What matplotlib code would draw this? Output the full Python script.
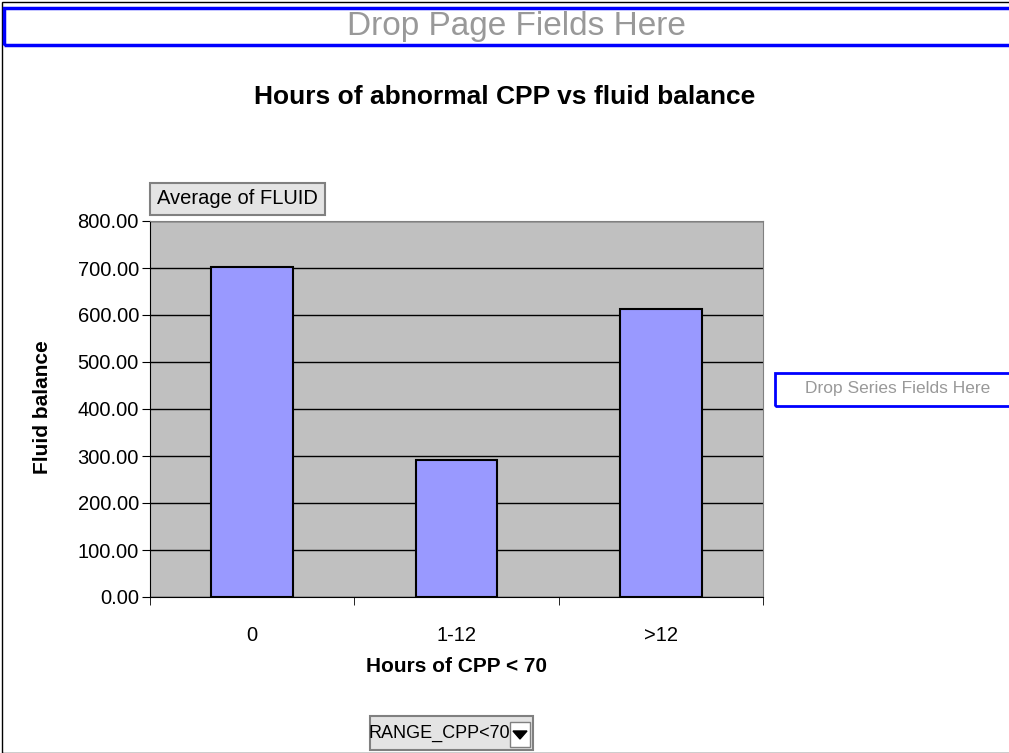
import numpy as np
import matplotlib.pyplot as plt
from matplotlib.patches import Rectangle, Polygon

plt.rcParams['font.family'] = ['Liberation Sans', 'DejaVu Sans']

# average fluid balance per range of hours with CPP < 70
categories = ["0", "1-12", ">12"]
fluid = [703, 292, 613]
y_ticks = [0, 100, 200, 300, 400, 500, 600, 700, 800]

fig = plt.figure(figsize=(10.09, 7.53), dpi=100)
W, H = 1009, 753

def px(x0, y0, x1, y1):
    # pixel box -> figure fraction (left, bottom, width, height)
    return x0 / W, 1 - y1 / H, (x1 - x0) / W, (y1 - y0) / H

# outer border
fig.patches.append(Rectangle((2 / W, 0), 1, 1 - 2 / H, transform=fig.transFigure,
                             fill=False, edgecolor="black", lw=1))

# drop page fields box
l, b, w, h = px(4, 8, 1012, 45)
fig.patches.append(Rectangle((l, b), w, h, transform=fig.transFigure,
                             fill=False, edgecolor="#0000ff", lw=2.5))
fig.text(516 / W, 1 - 27 / H, "Drop Page Fields Here", color="#999999",
         fontsize=24, ha="center", va="center")

# drop series fields box
l, b, w, h = px(775, 373, 1012, 406)
fig.patches.append(Rectangle((l, b), w, h, transform=fig.transFigure,
                             fill=False, edgecolor="#0000ff", lw=2))
fig.text(898 / W, 1 - 389 / H, "Drop Series Fields Here", color="#999999",
         fontsize=12.5, ha="center", va="center")

# "Average of FLUID" button
l, b, w, h = px(150, 183, 325, 215)
fig.patches.append(Rectangle((l, b), w, h, transform=fig.transFigure,
                             facecolor="#e4e4e4", edgecolor="#808080", lw=1.5))
fig.text(237 / W, 1 - 199 / H, "Average of FLUID", fontsize=14.5,
         ha="center", va="center")

# "RANGE_CPP<70" button with dropdown
l, b, w, h = px(370, 716, 533, 750)
fig.patches.append(Rectangle((l, b), w, h, transform=fig.transFigure,
                             facecolor="#e4e4e4", edgecolor="#808080", lw=1.5))
fig.text(439 / W, 1 - 733 / H, "RANGE_CPP<70", fontsize=13,
         ha="center", va="center")
l, b, w, h = px(510, 722, 530, 747)
fig.patches.append(Rectangle((l, b), w, h, transform=fig.transFigure,
                             facecolor="white", edgecolor="#808080", lw=1))
fig.patches.append(Polygon([(513 / W, 1 - 731 / H), (527 / W, 1 - 731 / H),
                            (520 / W, 1 - 739 / H)], closed=True,
                           transform=fig.transFigure, color="black"))

# plot area
ax = fig.add_axes(px(150, 221, 763, 597))
ax.set_facecolor("#c0c0c0")
x = np.arange(len(categories))
ax.bar(x, fluid, width=0.4, color="#9999ff", edgecolor="black", lw=1.5, zorder=3)
ax.set_xlim(-0.5, len(categories) - 0.5)
ax.set_ylim(0, 800)
ax.set_yticks(y_ticks)
ax.set_yticklabels([f"{v:.2f}" for v in y_ticks], fontsize=14.5)
ax.yaxis.grid(True, color="black", lw=1, zorder=1)
ax.set_axisbelow(True)

ax.set_xticks(x)
ax.set_xticklabels(categories, fontsize=14.5)
ax.tick_params(axis="x", length=0, pad=21)
ax.set_xticks(np.arange(len(categories) + 1) - 0.5, minor=True)
ax.tick_params(axis="x", which="minor", length=6, direction="out")
ax.tick_params(axis="y", length=6, direction="out", pad=2)

for s in ["top", "right"]:
    ax.spines[s].set_color("#808080")
ax.spines["left"].set_color("black")
ax.spines["bottom"].set_color("black")

fig.text(505 / W, 1 - 97 / H, "Hours of abnormal CPP vs fluid balance",
         fontsize=19, fontweight="bold", ha="center", va="center")
fig.text(42 / W, 1 - 407 / H, "Fluid balance", fontsize=15, fontweight="bold",
         rotation=90, ha="center", va="center")
fig.text(456 / W, 1 - 667 / H, "Hours of CPP < 70", fontsize=15,
         fontweight="bold", ha="center", va="center")

fig.savefig("out.png", dpi=100)
